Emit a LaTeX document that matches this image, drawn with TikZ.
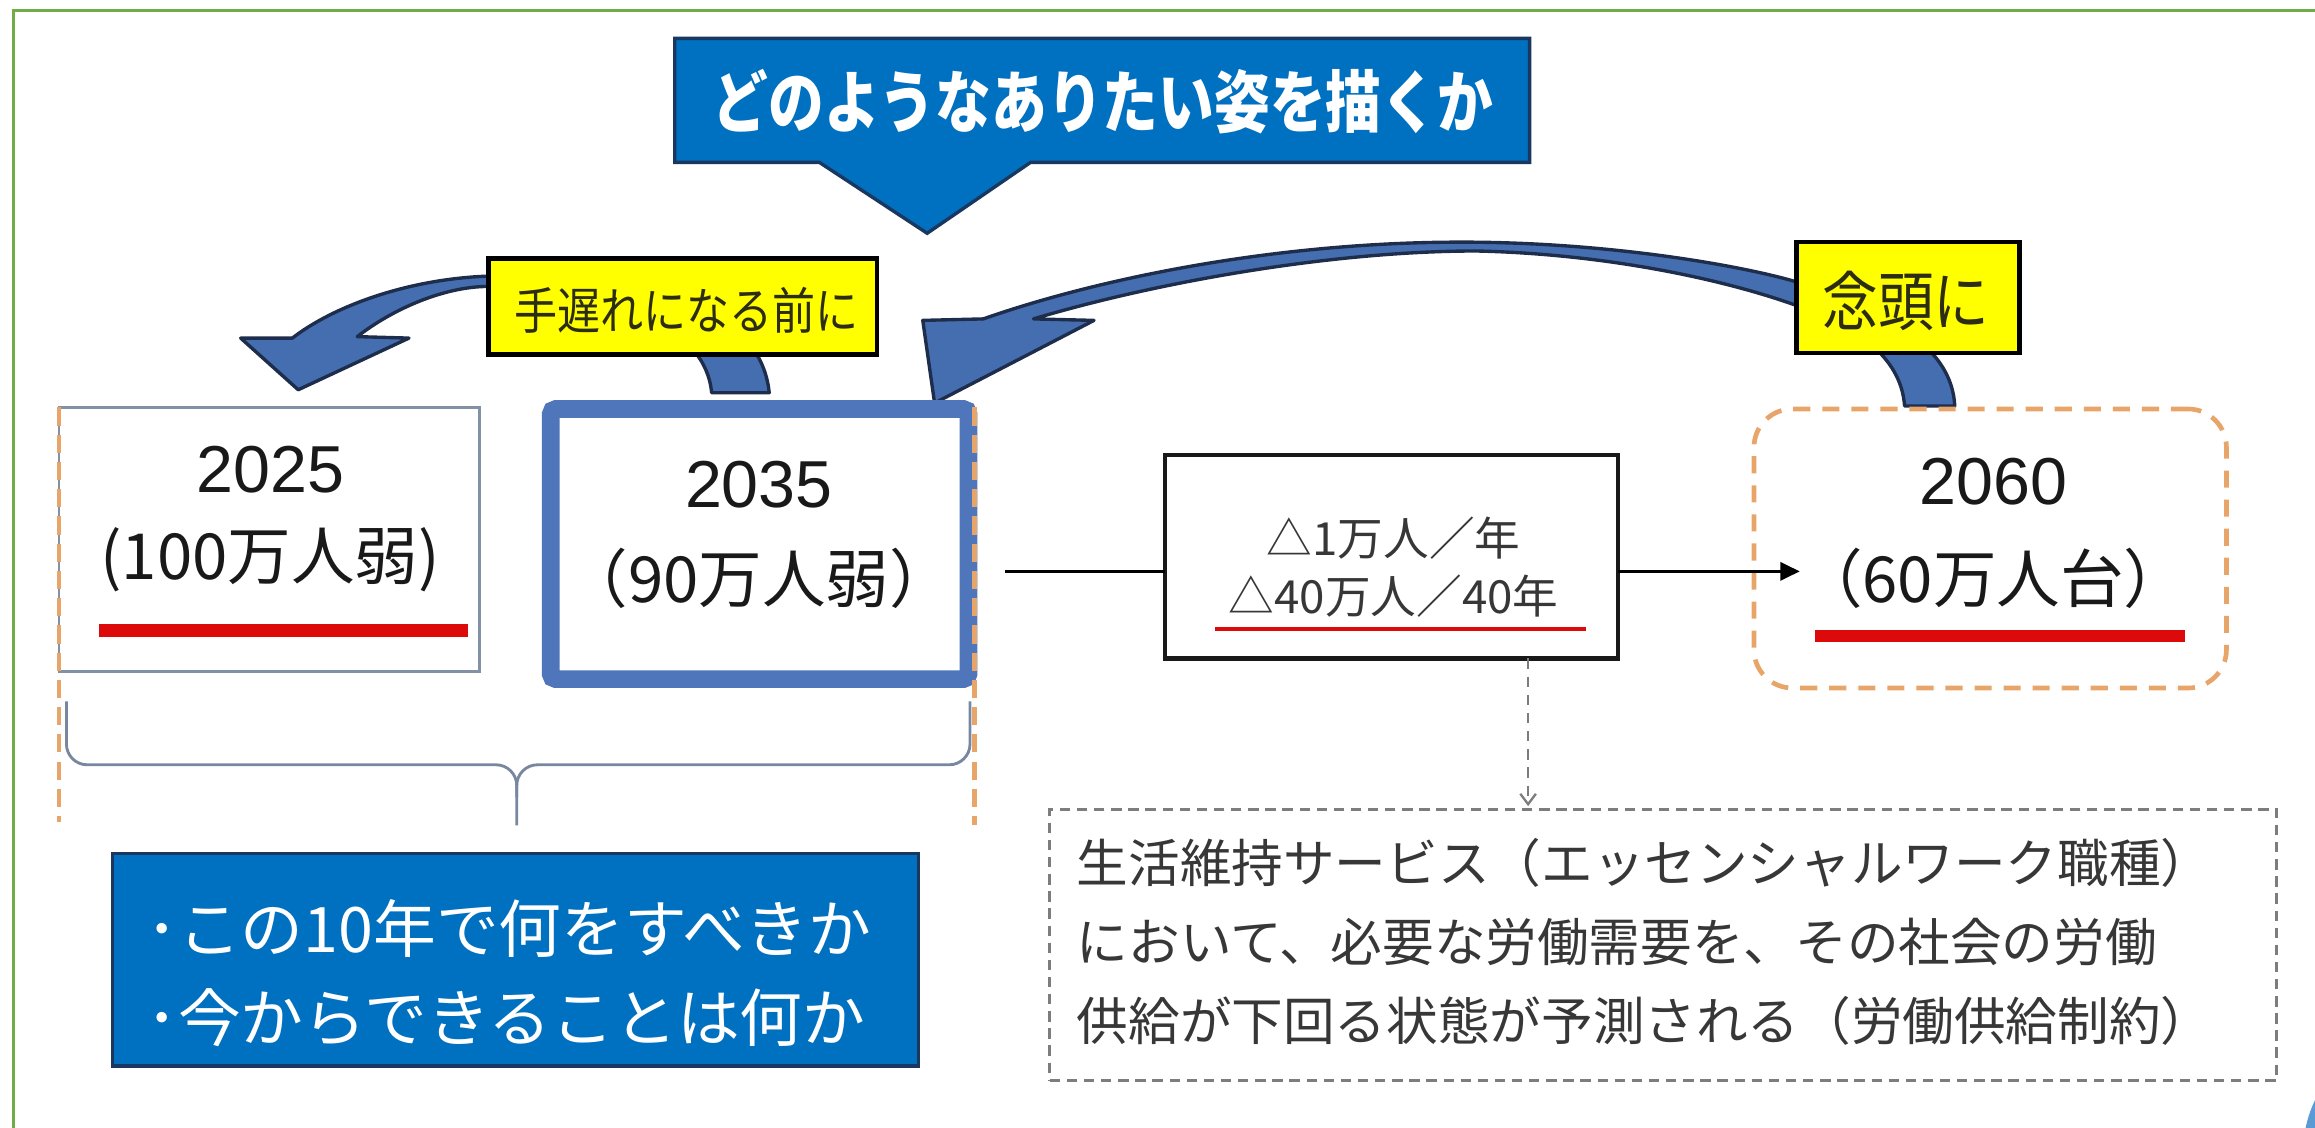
\documentclass[tikz,border=0pt]{standalone}
\usepackage{fontspec}
\setmainfont{Liberation Sans}
\newfontfamily\jp{Noto Sans CJK JP}
\newfontfamily\jpc[FakeStretch=0.82]{Noto Sans CJK JP}
\newfontfamily\jpy[FakeStretch=0.86]{Noto Sans CJK JP}
\usetikzlibrary{arrows.meta,fit}
\definecolor{greenc}{RGB}{112,173,71}
\definecolor{callblue}{RGB}{0,112,192}
\definecolor{calldark}{RGB}{25,55,95}
\definecolor{arrowblue}{RGB}{68,110,176}
\definecolor{arrowdark}{RGB}{30,45,75}
\definecolor{yel}{RGB}{255,255,0}
\definecolor{yeltext}{RGB}{45,45,20}
\definecolor{box35}{RGB}{79,118,186}
\definecolor{box25}{RGB}{130,145,165}
\definecolor{orangec}{RGB}{232,165,105}
\definecolor{redc}{RGB}{220,10,10}
\definecolor{txt}{RGB}{25,25,25}
\definecolor{graytxt}{RGB}{55,55,55}
\definecolor{grayc}{RGB}{125,125,125}
\definecolor{bracec}{RGB}{120,135,160}
\definecolor{cornerblue}{RGB}{91,155,213}
\tikzset{
  fitbox/.style={inner sep=0pt, outer sep=0pt},
  yearfont/.style={font=\fontsize{25.6}{30}\selectfont, text=txt, inner sep=0pt},
  jpyear/.style={font=\jp\fontsize{24.5}{29}\selectfont, text=txt, inner sep=0pt},
  yellowbox/.style={draw=black, fill=yel, line width=1.8pt, inner sep=0pt},
  arrowshape/.style={fill=arrowblue, draw=arrowdark, line width=1.3pt, line join=round},
  redline/.style={draw=redc, line cap=butt},
  orangedash/.style={draw=orangec, line width=1.7pt, dash pattern=on 7pt off 3.5pt},
  conn/.style={draw=black, line width=1.1pt},
}
\begin{document}
\begin{tikzpicture}[x=0.02cm,y=-0.02cm]
\useasboundingbox (0,0) rectangle (1568,764);
% frame
\draw[greenc, line width=1.3pt] (9,800) -- (9,7) -- (1600,7);
\fill[cornerblue] (1640,780) circle[radius=1.6cm];

% callout
\draw[fill=callblue, draw=calldark, line width=1.3pt, line join=miter]
  (457,26) -- (1036,26) -- (1036,110) -- (698,110) -- (628,158) -- (555,110) -- (457,110) -- cycle;
\node[text=white, font=\jpc\bfseries\fontsize{26.2}{30}\selectfont, inner sep=0pt] (tq) at (747,69) {どのようなありたい姿を描くか};

% left curved arrow (2035 -> 2025)
\path[arrowshape]
  (198,229) .. controls (225,208) and (275,189) .. (331,187)
  .. controls (430,182) and (515,205) .. (521,266)
  -- (482,266)
  .. controls (478,222) and (420,197) .. (331,194)
  .. controls (300,194) and (265,210) .. (242,228)
  -- (277,229) -- (202,264) -- (163,229) -- cycle;

% right curved arrow (2060 -> 2035)
\path[arrowshape]
  (666,216) .. controls (740,190) and (860,164) .. (990,164)
  .. controls (1090,164) and (1180,180) .. (1217,191)
  .. controls (1280,212) and (1322,235) .. (1324,275)
  -- (1290,275)
  .. controls (1288,245) and (1262,222) .. (1217,207)
  .. controls (1170,190) and (1090,172) .. (1000,170)
  .. controls (900,170) and (780,192) .. (700,216)
  -- (741,217) -- (633,273) -- (625,217) -- cycle;

% yellow labels
\node[yellowbox, minimum width=5.26cm, minimum height=1.3cm] (y1) at (462.5,207.5) {};
\node[text=yeltext, font=\jpy\fontsize{19.3}{22}\selectfont, inner sep=0pt] (y1t) at (465,210) {手遅れになる前に};
\node[yellowbox, minimum width=3.02cm, minimum height=1.5cm] (y2) at (1292.5,201.5) {};
\node[text=yeltext, font=\jpy\fontsize{25}{28}\selectfont, inner sep=0pt] (y2t) at (1291,204) {念頭に};

% 2025 box
\node[fitbox, draw=box25, line width=1.1pt, fit={(40,276) (325,455)}] (b2025) {};
\node[yearfont] (t2025a) at (183,318) {2025};
\node[jpyear] (t2025b) at (183,379) {(100万人弱)};
\draw[redline, line width=5.1pt] (67,427) -- (317,427);

% 2035 box
\node[fitbox, draw=box35, line width=6.8pt, rounded corners=2pt, fit={(373,277) (656,460)}] (b2035) {};
\node[yearfont] (t2035a) at (514,328) {2035};
\node[jpyear] (t2035b) at (514,392) {（90万人弱）};

% orange dashed verticals
\draw[orangedash] (40,276) -- (40,557);
\draw[orangedash] (660,276) -- (660,559);

% brace
\draw[bracec, line width=1.1pt, rounded corners=8pt] (45,475) -- (45,518) -- (350,518) -- (350,559);
\draw[bracec, line width=1.1pt, rounded corners=8pt] (657,475) -- (657,518) -- (350,518) -- (350,540);

% middle box
\node[fitbox, draw=txt, line width=1.7pt, fit={(789,308) (1096,446)}] (mid) {};
\node[text=graytxt, font=\jp\fontsize{17.6}{22.2}\selectfont, align=center, inner sep=0pt] (midt) at (944,384) {△1万人／年\\△40万人／40年};
\draw[redline, line width=1.7pt] (823,426) -- (1074,426);

% 2060 box
\node[fitbox, draw=orangec, line width=1.8pt, dash pattern=on 6.6pt off 4.6pt, rounded corners=14.8pt, fit={(1188,277) (1508,466)}] (b2060) {};
\node[yearfont] (t2060a) at (1350,326) {2060};
\node[jpyear] (t2060b) at (1350,392) {（60万人台）};
\draw[redline, line width=4.6pt] (1229,431) -- (1480,431);

% connectors
\coordinate (c1) at (681,387);
\coordinate (c2) at (1219,387);
\draw[conn] (c1) -- (c1 -| mid.west);
\draw[conn, -{Triangle[length=7.5pt,width=7pt]}] (c1 -| mid.east) -- (c2);

% bottom dashed box
\node[fitbox, draw=grayc, line width=1.1pt, dash pattern=on 4pt off 2.6pt, fit={(711,548) (1542,732)}] (note) {};
\coordinate (c3) at (1035,546);
\draw[grayc, line width=0.9pt, dash pattern=on 4pt off 3pt, -{Straight Barb[length=4pt,width=6pt]}] (c3 |- mid.south) -- (c3);
\node[anchor=west, text=graytxt, font=\jp\fontsize{19.9}{30.4}\selectfont, align=left, inner sep=0pt] (notet) at (729,638)
  {生活維持サービス（エッセンシャルワーク職種）\\において、必要な労働需要を、その社会の労働\\供給が下回る状態が予測される（労働供給制約）};

% bottom blue box
\node[fitbox, fill=callblue, draw=calldark, line width=1.3pt, fit={(76,578) (622,722)}] (qbox) {};
\node[anchor=west, text=white, font=\jp\fontsize{24.2}{34.1}\selectfont, align=left, inner sep=0pt] (qt) at (99,659)
  {･この10年で何をすべきか\\･今からできることは何か};
\end{tikzpicture}
\end{document}
